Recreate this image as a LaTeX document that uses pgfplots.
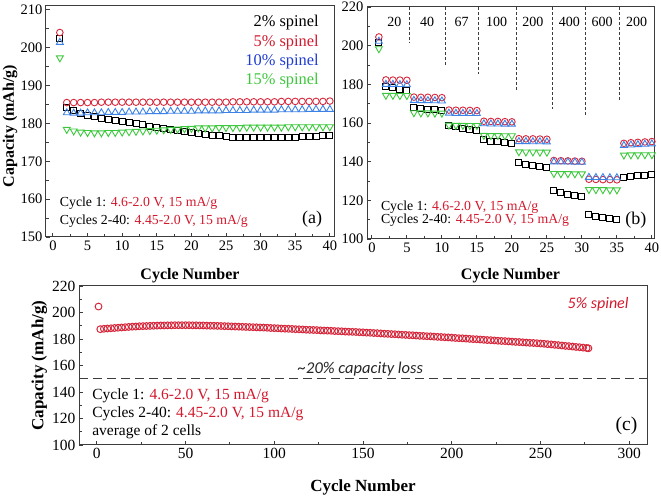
\documentclass[border=0pt]{standalone}
\usepackage{fontspec}
\setmainfont{Liberation Serif}
\newfontfamily\calibri{Carlito}
\usepackage{pgfplots}
\pgfplotsset{compat=1.18}
\definecolor{myred}{RGB}{214,40,60}
\definecolor{redtxt}{RGB}{210,25,45}
\definecolor{myblue}{RGB}{60,130,230}
\definecolor{bluetxt}{RGB}{30,60,210}
\definecolor{mygreen}{RGB}{60,200,60}
\definecolor{axgray}{RGB}{60,60,60}
\pgfplotsset{
  panel/.style={scale only axis, clip=false,
    axis line style={draw=axgray, line width=1pt},
    tick align=inside, xtick pos=bottom, ytick pos=left, minor tick num=1,
    major tick length=4pt, minor tick length=2.5pt,
    every tick/.style={axgray, line width=0.9pt},
    /pgf/number format/assume math mode=true,
    xticklabel={\rmfamily\pgfmathprintnumber{\tick}},
    yticklabel={\rmfamily\pgfmathprintnumber{\tick}},
    tick label style={font=\rmfamily\fontsize{14.5}{16}\selectfont},
    label style={font=\bfseries\fontsize{16}{18}\selectfont}},
  sq/.style={only marks, mark=square, mark size=3pt, black, mark options={line width=0.9pt}},
  ci/.style={only marks, mark=o, mark size=3.3pt, myred, mark options={line width=0.9pt}},
  tu/.style={only marks, mark=triangle, mark size=4pt, myblue, mark options={line width=0.9pt}},
  td/.style={only marks, mark=triangle, mark size=4pt, mygreen, mark options={line width=0.9pt, rotate=180}},
}
\begin{document}
\begin{tikzpicture}
\useasboundingbox (0pt,0pt) rectangle (661pt,497pt);
% ---------------- panel (a)
\begin{axis}[panel, at={(46pt,260pt)}, anchor=south west, width=288pt, height=231pt,
  xmin=-1, xmax=40.6, ymin=150, ymax=211,
  xtick={0,5,...,40}, ytick={150,160,...,210},
  xlabel={Cycle Number}, ylabel={Capacity (mAh/g)},
  xlabel style={at={(axis description cs:0.5,-0.169)}, anchor=center},
  ylabel style={at={(axis description cs:-0.125,0.48)}, anchor=center}]
\addplot[sq] table {
1 202.5
2 184.1
3 183.3
4 182.6
5 182.2
6 181.8
7 181.4
8 181.1
9 180.8
10 180.5
11 180.2
12 179.9
13 179.6
14 179.3
15 179.0
16 178.7
17 178.4
18 178.1
19 177.8
20 177.5
21 177.3
22 177.1
23 176.9
24 176.7
25 176.5
26 176.4
27 176.3
28 176.2
29 176.2
30 176.2
31 176.2
32 176.3
33 176.3
34 176.4
35 176.4
36 176.5
37 176.5
38 176.6
39 176.7
40 176.7
};
\addplot[ci] table {
1 204.0
2 185.5
3 185.5
4 185.5
5 185.5
6 185.5
7 185.6
8 185.6
9 185.6
10 185.6
11 185.6
12 185.6
13 185.6
14 185.6
15 185.6
16 185.6
17 185.6
18 185.6
19 185.6
20 185.6
21 185.6
22 185.6
23 185.6
24 185.6
25 185.6
26 185.7
27 185.7
28 185.7
29 185.7
30 185.7
31 185.7
32 185.7
33 185.8
34 185.8
35 185.8
36 185.8
37 185.8
38 185.8
39 185.8
40 185.9
};
\addplot[tu] table {
1 201.4
2 182.8
3 182.7
4 182.7
5 182.8
6 182.8
7 182.8
8 182.9
9 182.9
10 182.9
11 183.0
12 183.0
13 183.0
14 183.1
15 183.1
16 183.1
17 183.2
18 183.2
19 183.2
20 183.2
21 183.3
22 183.3
23 183.3
24 183.3
25 183.4
26 183.4
27 183.4
28 183.4
29 183.5
30 183.5
31 183.5
32 183.5
33 183.6
34 183.6
35 183.6
36 183.6
37 183.7
38 183.7
39 183.7
40 183.7
};
\addplot[td] table {
1 197.3
2 178.4
3 178.0
4 177.7
5 177.6
6 177.5
7 177.5
8 177.6
9 177.6
10 177.7
11 177.8
12 177.9
13 178.0
14 178.1
15 178.2
16 178.3
17 178.4
18 178.5
19 178.6
20 178.7
21 178.8
22 178.8
23 178.8
24 178.9
25 178.9
26 178.9
27 178.9
28 179.0
29 179.0
30 179.0
31 179.0
32 179.0
33 179.0
34 179.1
35 179.1
36 179.1
37 179.1
38 179.1
39 179.1
40 179.1
};
\begin{scope}[font=\fontsize{16.4}{18}\selectfont]
\node[anchor=east] at (axis cs:38.9,206.6) {2\% spinel};
\node[anchor=east, text=redtxt] at (axis cs:38.9,201.4) {5\% spinel};
\node[anchor=east, text=bluetxt] at (axis cs:38.9,196.2) {10\% spinel};
\node[anchor=east, text=mygreen] at (axis cs:38.9,191.2) {15\% spinel};
\end{scope}
\begin{scope}[font=\fontsize{13.8}{15}\selectfont]
\node[anchor=west] at (axis cs:0.5,158.8) {Cycle 1: \textcolor{redtxt}{4.6-2.0 V, 15 mA/g}};
\node[anchor=west] at (axis cs:0.5,154.3) {Cycles 2-40: \textcolor{redtxt}{4.45-2.0 V, 15 mA/g}};
\end{scope}
\node[anchor=east, font=\fontsize{18}{20}\selectfont] at (axis cs:39.4,154.8) {(a)};
\end{axis}
% ---------------- panel (b)
\begin{axis}[panel, at={(367pt,258pt)}, anchor=south west, width=287pt, height=232pt,
  xmin=-0.7, xmax=40.3, ymin=100, ymax=220,
  xtick={0,5,...,40}, ytick={100,120,...,220},
  xlabel={Cycle Number},
  xlabel style={at={(axis description cs:0.5,-0.159)}, anchor=center}]
\begin{scope}[axgray, line width=0.8pt, dash pattern=on 3pt off 2pt]
\draw (axis cs:5.4,220) -- (axis cs:5.4,201.2);
\draw (axis cs:10.5,220) -- (axis cs:10.5,189.1);
\draw (axis cs:15.2,220) -- (axis cs:15.2,185.3);
\draw (axis cs:20.6,220) -- (axis cs:20.6,176.2);
\draw (axis cs:25.8,220) -- (axis cs:25.8,167.1);
\draw (axis cs:30.5,220) -- (axis cs:30.5,163.6);
\draw (axis cs:35.4,220) -- (axis cs:35.4,171.8);
\end{scope}
\begin{scope}[font=\fontsize{14}{16}\selectfont]
\node at (axis cs:3.2,212.4) {20};
\node at (axis cs:7.9,212.4) {40};
\node at (axis cs:12.8,212.4) {67};
\node at (axis cs:17.8,212.4) {100};
\node at (axis cs:23.0,212.4) {200};
\node at (axis cs:28.2,212.4) {400};
\node at (axis cs:32.9,212.4) {600};
\node at (axis cs:37.8,212.4) {200};
\end{scope}
\addplot[sq] table {
1 201.5
2 178.8
3 178.2
4 177.6
5 177.0
6 168.2
7 167.6
8 167.2
9 166.8
10 166.4
11 158.6
12 158.0
13 157.4
14 156.9
15 156.3
16 151.3
17 150.7
18 150.2
19 149.7
20 149.2
21 139.5
22 138.8
23 138.2
24 137.6
25 137.0
26 125.0
27 124.0
28 123.2
29 122.5
30 121.8
31 112.5
32 111.5
33 111.0
34 110.5
35 110.0
36 131.8
37 132.4
38 132.8
39 133.0
40 133.3
};
\addplot[ci] table {
1 204.5
2 182.3
3 182.2
4 182.2
5 182.1
6 173.4
7 173.3
8 173.3
9 173.2
10 173.1
11 166.7
12 166.6
13 166.6
14 166.5
15 166.4
16 160.9
17 160.8
18 160.8
19 160.7
20 160.6
21 151.9
22 151.8
23 151.8
24 151.7
25 151.6
26 140.6
27 140.5
28 140.4
29 140.3
30 140.2
31 130.9
32 130.8
33 130.7
34 130.7
35 130.6
36 149.5
37 149.8
38 150.0
39 150.2
40 150.4
};
\addplot[tu] table {
1 202.3
2 180.0
3 180.0
4 179.9
5 179.8
6 171.7
7 171.6
8 171.6
9 171.5
10 171.4
11 165.1
12 165.0
13 165.0
14 164.9
15 164.9
16 159.6
17 159.5
18 159.5
19 159.4
20 159.4
21 150.4
22 150.4
23 150.3
24 150.3
25 150.2
26 139.9
27 139.8
28 139.8
29 139.7
30 139.7
31 131.9
32 131.8
33 131.8
34 131.7
35 131.7
36 148.4
37 148.6
38 148.8
39 149.0
40 149.2
};
\addplot[td] table {
1 198.4
2 174.3
3 174.3
4 174.2
5 174.2
6 165.3
7 165.2
8 165.2
9 165.1
10 165.1
11 158.9
12 158.8
13 158.8
14 158.7
15 158.7
16 153.6
17 153.5
18 153.5
19 153.4
20 153.4
21 145.1
22 145.0
23 145.0
24 144.9
25 144.9
26 133.9
27 133.8
28 133.8
29 133.7
30 133.7
31 125.6
32 125.5
33 125.5
34 125.4
35 125.4
36 143.4
37 143.5
38 143.5
39 143.6
40 143.6
};
\begin{scope}[font=\fontsize{13.8}{15}\selectfont]
\node[anchor=west] at (axis cs:0.8,116.5) {Cycle 1: \textcolor{redtxt}{4.6-2.0 V, 15 mA/g}};
\node[anchor=west] at (axis cs:0.8,109.8) {Cycles 2-40: \textcolor{redtxt}{4.45-2.0 V, 15 mA/g}};
\end{scope}
\node[anchor=east, font=\fontsize{18}{20}\selectfont] at (axis cs:39.7,109.8) {(b)};
\end{axis}
% ---------------- panel (c)
\begin{axis}[panel, at={(79pt,52pt)}, anchor=south west, width=568pt, height=159pt,
  xmin=-10, xmax=310, ymin=100, ymax=220,
  xtick={0,50,...,300}, ytick={100,120,...,220},
  tick label style={font=\rmfamily\fontsize{15.5}{17}\selectfont},
  label style={font=\bfseries\fontsize{17}{19}\selectfont},
  xlabel={Cycle Number}, ylabel={Capacity (mAh/g)},
  xlabel style={at={(axis description cs:0.5,-0.264)}, anchor=center},
  ylabel style={at={(axis description cs:-0.070,0.5)}, anchor=center}]
\draw[axgray, line width=1pt, dash pattern=on 9pt off 5pt] (axis cs:-10,150) -- (axis cs:310,150);
\addplot[ci, mark size=3.4pt, mark options={line width=1pt}] table {
1 204.5
2 187.4
4 187.7
6 187.9
8 188.1
10 188.3
12 188.5
14 188.7
16 188.9
18 189.1
20 189.3
22 189.4
24 189.6
26 189.7
28 189.8
30 189.9
32 190.0
34 190.1
36 190.2
38 190.2
40 190.3
42 190.3
44 190.4
46 190.4
48 190.4
50 190.4
52 190.4
54 190.3
56 190.3
58 190.2
60 190.2
62 190.1
64 190.0
66 190.0
68 189.9
70 189.8
72 189.7
74 189.6
76 189.5
78 189.4
80 189.3
82 189.2
84 189.1
86 189.0
88 188.9
90 188.8
92 188.7
94 188.6
96 188.5
98 188.3
100 188.2
102 188.1
104 187.9
106 187.8
108 187.7
110 187.6
112 187.4
114 187.3
116 187.2
118 187.0
120 186.9
122 186.8
124 186.7
126 186.5
128 186.4
130 186.3
132 186.2
134 186.0
136 185.9
138 185.8
140 185.6
142 185.5
144 185.4
146 185.3
148 185.1
150 185.0
152 184.8
154 184.7
156 184.5
158 184.4
160 184.2
162 184.0
164 183.9
166 183.7
168 183.6
170 183.4
172 183.2
174 183.1
176 182.9
178 182.8
180 182.6
182 182.4
184 182.3
186 182.1
188 182.0
190 181.8
192 181.6
194 181.5
196 181.3
198 181.2
200 181.0
202 180.8
204 180.6
206 180.5
208 180.3
210 180.1
212 179.9
214 179.8
216 179.6
218 179.4
220 179.2
222 179.1
224 178.9
226 178.7
228 178.5
230 178.4
232 178.2
234 178.0
236 177.8
238 177.7
240 177.5
242 177.3
244 177.1
246 177.0
248 176.8
250 176.6
252 176.4
254 176.1
256 175.9
258 175.6
260 175.4
262 175.1
264 174.8
266 174.6
268 174.3
270 174.0
272 173.8
274 173.5
276 173.2
};
\addplot[ci, mark size=3.4pt, mark options={fill=white, line width=1pt}] table {
277 173.0
};
\node[anchor=east, text=redtxt, font=\calibri\itshape\fontsize{16}{18}\selectfont] at (axis cs:301.6,206.5) {5\% spinel};
\node[text=black!85, font=\calibri\itshape\fontsize{16.5}{18}\selectfont] at (axis cs:148.6,157.5) {\textasciitilde20\% capacity loss};
\begin{scope}[font=\fontsize{15.5}{17}\selectfont]
\node[anchor=west] at (axis cs:-4.5,137) {Cycle 1: \textcolor{redtxt}{4.6-2.0 V, 15 mA/g}};
\node[anchor=west] at (axis cs:-4.5,123.75) {Cycles 2-40: \textcolor{redtxt}{4.45-2.0 V, 15 mA/g}};
\node[anchor=west] at (axis cs:-4.5,110) {average of 2 cells};
\end{scope}
\node[anchor=east, font=\fontsize{19.5}{21}\selectfont] at (axis cs:306.5,114.6) {(c)};
\end{axis}
\end{tikzpicture}
\end{document}
